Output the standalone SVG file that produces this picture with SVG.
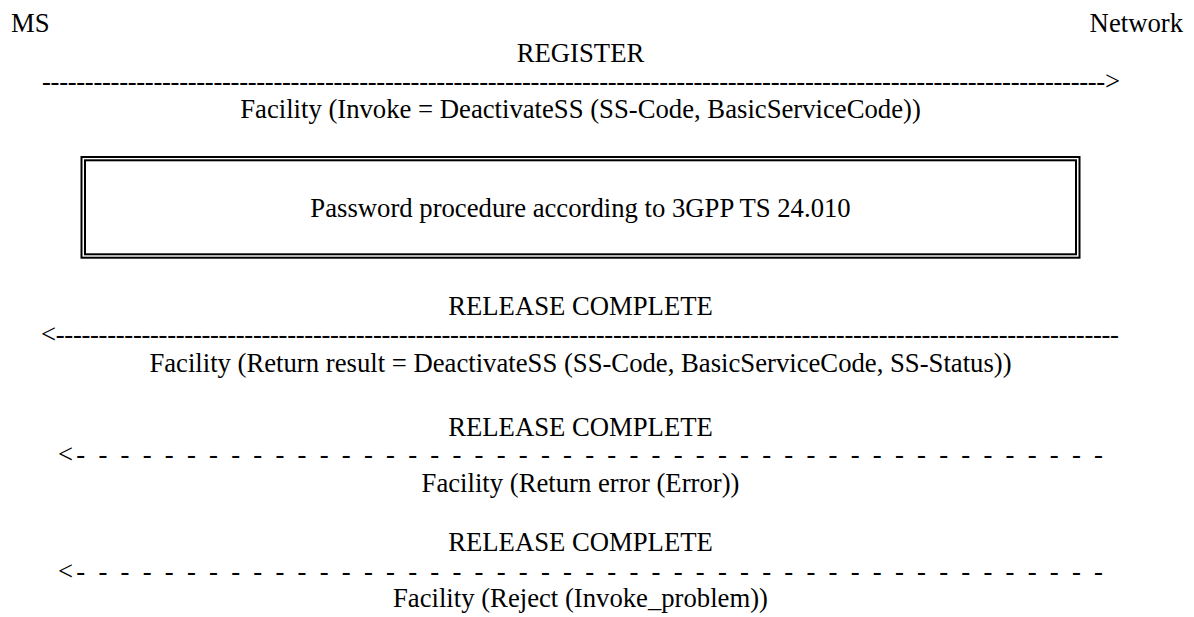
<svg xmlns="http://www.w3.org/2000/svg" width="1194" height="617" viewBox="0 0 1194 617">
<style>
text{font-family:"Liberation Serif","Times New Roman",serif;font-size:26.7px;fill:#000}
.c{text-anchor:middle}
.box{fill:none;stroke:#000;stroke-width:2}
</style>
<rect width="1194" height="617" fill="#fff"/>
<g id="ms"><text x="11" y="32">MS</text></g>
<g id="network"><text x="1183" y="32" text-anchor="end">Network</text></g>
<g id="connectors">
<g id="msg-register">
<text class="c" x="580.5" y="62">REGISTER</text>
<text x="42" y="90" textLength="1078" lengthAdjust="spacing">----------------------------------------------------------------------------------------------------------------------------&gt;</text>
<text class="c" x="580.5" y="118">Facility (Invoke = DeactivateSS (SS-Code, BasicServiceCode))</text>
</g>
<g id="msg-release1">
<text class="c" x="580.5" y="315">RELEASE COMPLETE</text>
<text x="41" y="343" textLength="1078" lengthAdjust="spacing">&lt;----------------------------------------------------------------------------------------------------------------------------</text>
<text class="c" x="580.5" y="372">Facility (Return result = DeactivateSS (SS-Code, BasicServiceCode, SS-Status))</text>
</g>
<g id="msg-release2">
<text class="c" x="580.5" y="436">RELEASE COMPLETE</text>
<text x="58" y="463" textLength="1045" lengthAdjust="spacing">&lt;- - - - - - - - - - - - - - - - - - - - - - - - - - - - - - - - - - - - - - - - - - - - - - -</text>
<text class="c" x="580.5" y="492">Facility (Return error (Error))</text>
</g>
<g id="msg-release3">
<text class="c" x="580.5" y="551">RELEASE COMPLETE</text>
<text x="58" y="580" textLength="1045" lengthAdjust="spacing">&lt;- - - - - - - - - - - - - - - - - - - - - - - - - - - - - - - - - - - - - - - - - - - - - - -</text>
<text class="c" x="580.5" y="607">Facility (Reject (Invoke_problem))</text>
</g>
</g>
<g id="password-box">
<rect class="box" x="81.5" y="157" width="998" height="100.7"/>
<rect class="box" x="85" y="160.3" width="991" height="94"/>
<text class="c" x="580.5" y="217">Password procedure according to 3GPP TS 24.010</text>
</g>
</svg>
